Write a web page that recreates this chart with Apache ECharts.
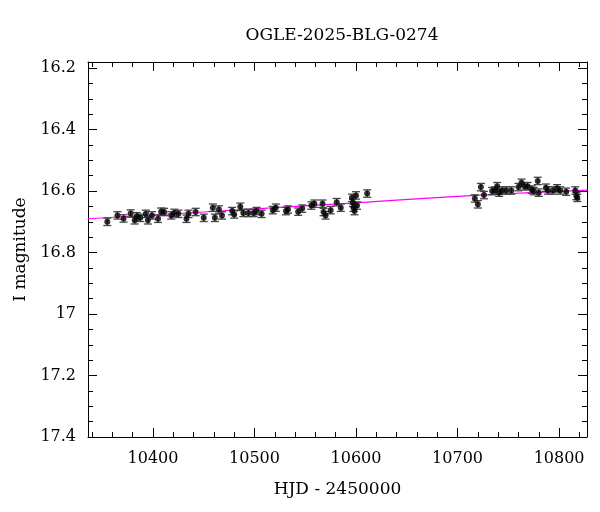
<!DOCTYPE html>
<html>
<head>
<meta charset="utf-8">
<script src="https://cdn.jsdelivr.net/npm/echarts@6/dist/echarts.min.js"></script>
<style>html,body{margin:0;background:#fff}#c{width:600px;height:512px}</style>
</head>
<body>
<div id="c"></div>
<script>
const hjd = [10355,10365,10371,10378,10382,10384,10387.5,10393,10395,10399,10405,10408,10411,10418,10421,10425,10433,10435,10442,10450,10459,10461,10465,10468,10478,10480,10486,10489,10494,10499,10502,10507,10518,10521,10531,10533,10543,10547,10556,10559,10567,10568,10570,10575,10581,10585,10596,10597,10597.5,10598.5,10600,10601,10611,
  10717,10720,10723,10726,10734,10737,10739,10741,10744,10748,10753,10760,10763,10766,10769,10773,10775,10779,10780,10787,10789,10794,10798,10801,10807,10816,10817,10818];
const mag = [16.70,16.679,16.689,16.673,16.695,16.682,16.687,16.674,16.695,16.679,16.69,16.667,16.668,16.679,16.671,16.674,16.69,16.674,16.668,16.687,16.654,16.687,16.66,16.679,16.665,16.676,16.651,16.671,16.671,16.671,16.665,16.674,16.662,16.654,16.665,16.66,16.667,16.657,16.647,16.641,16.641,16.668,16.679,16.662,16.636,16.654,16.622,16.638,16.654,16.665,16.614,16.647,16.608,
  16.624,16.643,16.587,16.613,16.6,16.598,16.584,16.605,16.598,16.598,16.598,16.587,16.573,16.584,16.584,16.595,16.6,16.567,16.605,16.589,16.598,16.598,16.591,16.598,16.602,16.598,16.616,16.622];
const err = 0.012;
const modelHjd = [10336, 10450, 10600, 10700, 10828];
const modelMag = [16.690, 16.668, 16.638, 16.617, 16.597];

const font = '"DejaVu Serif", "Liberation Serif", serif';
const pts = hjd.map((x, i) => [x, mag[i]]);

const baseX = {
  type: 'value', min: 10336, max: 10827.5, splitNumber: 5,
  axisLine: { show: true, lineStyle: { color: '#000' } },
  axisTick: { inside: true, length: 9, lineStyle: { color: '#000' } },
  minorTick: { show: true, splitNumber: 5, length: 5, lineStyle: { color: '#000' } },
  splitLine: { show: false }
};
const baseY = {
  type: 'value', inverse: true, min: 16.18, max: 17.4, splitNumber: 6,
  axisLine: { show: true, lineStyle: { color: '#000' } },
  axisTick: { inside: true, length: 9, lineStyle: { color: '#000' } },
  minorTick: { show: true, splitNumber: 4, length: 5, lineStyle: { color: '#000' } },
  splitLine: { show: false }
};

const chart = echarts.init(document.getElementById('c'));
chart.setOption({
  animation: false,
  backgroundColor: '#fff',
  title: { text: 'OGLE-2025-BLG-0274', left: 337, top: 22, textAlign: 'center',
    textStyle: { fontFamily: font, fontSize: 17, fontWeight: 'normal', color: '#000' } },
  grid: { left: 88, right: 13, top: 62, bottom: 75 },
  xAxis: [
    Object.assign({}, baseX, { position: 'bottom', name: 'HJD - 2450000', nameLocation: 'middle', nameGap: 44,
      nameTextStyle: { fontFamily: font, fontSize: 17, color: '#000' },
      axisLabel: { showMinLabel: false, showMaxLabel: false, margin: 14, fontFamily: font, fontSize: 16, color: '#000',
        formatter: v => String(v) } }),
    Object.assign({}, baseX, { position: 'top', axisLabel: { show: false } })
  ],
  yAxis: [
    Object.assign({}, baseY, { position: 'left', name: 'I magnitude', nameLocation: 'middle', nameGap: 58,
      nameTextStyle: { fontFamily: font, fontSize: 17, color: '#000' },
      axisLabel: { showMinLabel: false, margin: 12, fontFamily: font, fontSize: 16, color: '#000',
        formatter: v => String(+v.toFixed(2)) } }),
    Object.assign({}, baseY, { position: 'right', axisLabel: { show: false } })
  ],
  series: [
    {
      type: 'line', data: modelHjd.map((x, i) => [x, modelMag[i]]), showSymbol: false, smooth: true,
      lineStyle: { color: '#ff00ff', width: 1.2 }, z: 1
    },
    {
      type: 'custom', data: pts, z: 2,
      renderItem: (params, api) => {
        const x = api.value(0), y = api.value(1);
        const top = api.coord([x, y - err]), bot = api.coord([x, y + err]);
        const w = 4;
        const st = { stroke: '#444', lineWidth: 1.3 };
        return { type: 'group', children: [
          { type: 'line', shape: { x1: top[0], y1: top[1], x2: bot[0], y2: bot[1] }, style: st },
          { type: 'line', shape: { x1: top[0] - w, y1: top[1], x2: top[0] + w, y2: top[1] }, style: st },
          { type: 'line', shape: { x1: bot[0] - w, y1: bot[1], x2: bot[0] + w, y2: bot[1] }, style: st }
        ] };
      }
    },
    {
      type: 'scatter', data: pts, symbol: 'circle', symbolSize: 6,
      itemStyle: { color: '#000' }, z: 3
    }
  ]
});
</script>
</body>
</html>
